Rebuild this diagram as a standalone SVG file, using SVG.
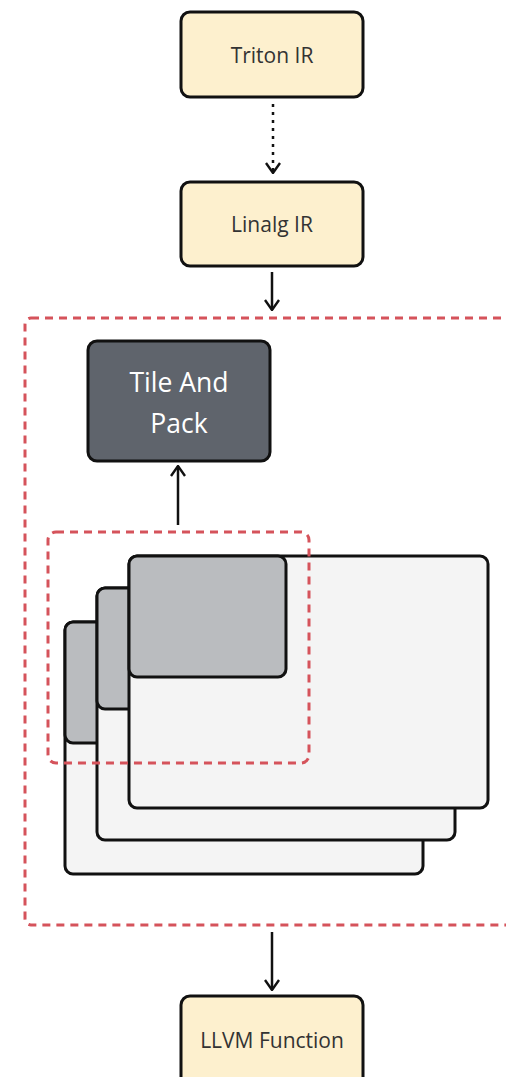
<svg xmlns="http://www.w3.org/2000/svg" width="506" height="1077" viewBox="0 0 506 1077">
<defs>
<style>
.ir{fill:#FDF0CE;stroke:#111;stroke-width:3}
.lbl{font-family:"Open Sans","Noto Sans",sans-serif;font-size:21px;fill:#333;text-anchor:middle}
.dash{fill:none;stroke:#D5535B;stroke-width:3;stroke-dasharray:8 6}
.plane{fill:#F4F4F4;stroke:#111;stroke-width:3}
.tile{fill:#BABCBF;stroke:#111;stroke-width:3}
.conn{fill:none;stroke:#111;stroke-width:2.5}
.big{font-family:"Open Sans","Noto Sans",sans-serif;font-size:26.5px;fill:#fff;text-anchor:middle}
</style>
<marker id="arr" viewBox="0 0 12 16" refX="11" refY="8" markerWidth="12" markerHeight="16" markerUnits="userSpaceOnUse" orient="auto">
<path d="M1,1 L11,8 L1,15" fill="none" stroke="#111" stroke-width="2.4"/>
</marker>
</defs>
<rect width="506" height="1077" fill="#fff"/>
<g id="outer-region">
<rect class="dash" x="25" y="318" width="520" height="607" rx="6"/>
</g>
<g id="triton-ir">
<rect class="ir" x="181" y="12" width="182" height="85" rx="9"/>
<text class="lbl" x="272" y="63">Triton IR</text>
</g>
<g id="linalg-ir">
<rect class="ir" x="181" y="182" width="182" height="84" rx="9"/>
<text class="lbl" x="272" y="232">Linalg IR</text>
</g>
<g id="tile-and-pack">
<rect x="88" y="341" width="182" height="120" rx="9" fill="#5F646C" stroke="#111" stroke-width="3"/>
<text class="big" x="179" y="392">Tile And</text>
<text class="big" x="179" y="433">Pack</text>
</g>
<g id="plane-back">
<rect class="plane" x="65" y="622" width="358" height="252" rx="8"/>
<rect class="tile" x="65" y="622" width="157" height="121" rx="8"/>
</g>
<g id="plane-middle">
<rect class="plane" x="97" y="588" width="358" height="252" rx="8"/>
<rect class="tile" x="97" y="588" width="157" height="121" rx="8"/>
</g>
<g id="plane-front">
<rect class="plane" x="129" y="556" width="359" height="252" rx="8"/>
<rect class="tile" x="129" y="556" width="157" height="121" rx="8"/>
</g>
<g id="tile-region">
<rect class="dash" x="48" y="532" width="261" height="231" rx="8"/>
</g>
<g id="llvm-function">
<rect class="ir" x="181" y="996" width="182" height="100" rx="9"/>
<text class="lbl" x="272" y="1048">LLVM Function</text>
</g>
<g id="connectors">
<line class="conn" x1="273" y1="104" x2="273" y2="173" stroke-dasharray="3 5" marker-end="url(#arr)"/>
<line class="conn" x1="272" y1="272" x2="272" y2="310" marker-end="url(#arr)"/>
<line class="conn" x1="178" y1="525" x2="178" y2="466" marker-end="url(#arr)"/>
<line class="conn" x1="272" y1="932" x2="272" y2="990" marker-end="url(#arr)"/>
</g>
</svg>
